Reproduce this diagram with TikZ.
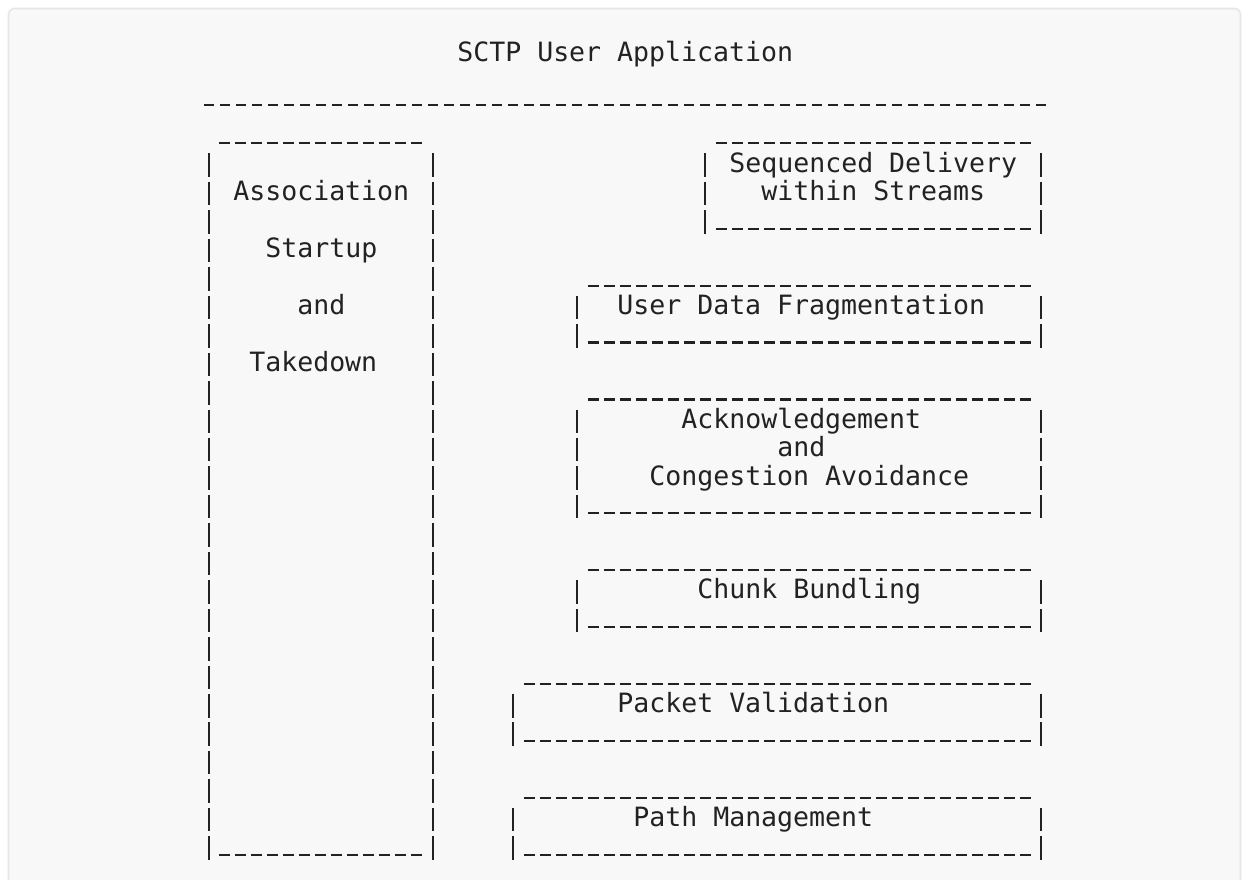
\documentclass[tikz,border=0pt]{standalone}
\usepackage{fontspec}
\newfontfamily\asciifont{DejaVu Sans Mono}
\definecolor{ink}{HTML}{222222}
\definecolor{paper}{HTML}{F8F8F8}
\definecolor{frame}{HTML}{E6E6E6}

\begin{document}
\begin{tikzpicture}[x=12pt,y=-21.3375pt,
                    main text/.style={anchor=base west,inner sep=0pt,text=ink,
                                      font=\asciifont\fontsize{19.93pt}{24pt}\selectfont},
                    rule line/.style={draw=ink,line width=1.65pt,dash pattern=on 8.25pt off 3.75pt},
                    hyphen line/.style={draw=ink,line width=1.65pt,dash pattern=on 7.5pt off 4.5pt},
                    side bar/.style={draw=ink,line width=1.65pt,dash pattern=on 17.625pt off 3.7125pt}]
  \useasboundingbox (-12.5625,-4.7101) rectangle (65.0625,26.2214);
  \clip (-12.5625,-4.7101) rectangle (65.0625,26.2214);
  \draw[fill=paper,draw=frame,line width=1.2pt,rounded corners=4.5pt]
    (-12.0313,-4.4112) rectangle (64.9688,27.5);

  \node[main text] (title) at (16,-2.55) {SCTP User Application};
  \draw[hyphen line] (0.1875,-1.02) -- (52.8125,-1.02);

  % boxes: left col / right col / top row / bottom row
  \foreach \l/\r/\t/\b in {0/14/0/25, 31/52/0/3, 23/52/5/7, 23/52/9/13,
                           23/52/15/17, 19/52/19/21, 19/52/23/25} {
    \draw[rule line] (\l+1.156,\t+0.33) -- (\r-0.156,\t+0.33);
    \draw[rule line] (\l+1.156,\b+0.33) -- (\r-0.156,\b+0.33);
    \draw[side bar] (\l+0.5,\t+0.684) -- (\l+0.5,\b+0.51);
    \draw[side bar] (\r+0.5,\t+0.684) -- (\r+0.5,\b+0.51);
  }

  \node[main text] (assoc)    at (2,2.34)  {Association};
  \node[main text] (startup)  at (4,4.34)  {Startup};
  \node[main text] (and1)     at (6,6.34)  {and};
  \node[main text] (takedown) at (3,8.34)  {Takedown};
  \node[main text] (seq)      at (33,1.34) {Sequenced Delivery};
  \node[main text] (streams)  at (35,2.34) {within Streams};
  \node[main text] (frag)     at (26,6.34) {User Data Fragmentation};
  \node[main text] (ack)      at (30,10.34) {Acknowledgement};
  \node[main text] (and2)     at (36,11.34) {and};
  \node[main text] (cong)     at (28,12.34) {Congestion Avoidance};
  \node[main text] (bundle)   at (31,16.34) {Chunk Bundling};
  \node[main text] (valid)    at (26,20.34) {Packet Validation};
  \node[main text] (pathmgmt) at (27,24.34) {Path Management};
\end{tikzpicture}
\end{document}
